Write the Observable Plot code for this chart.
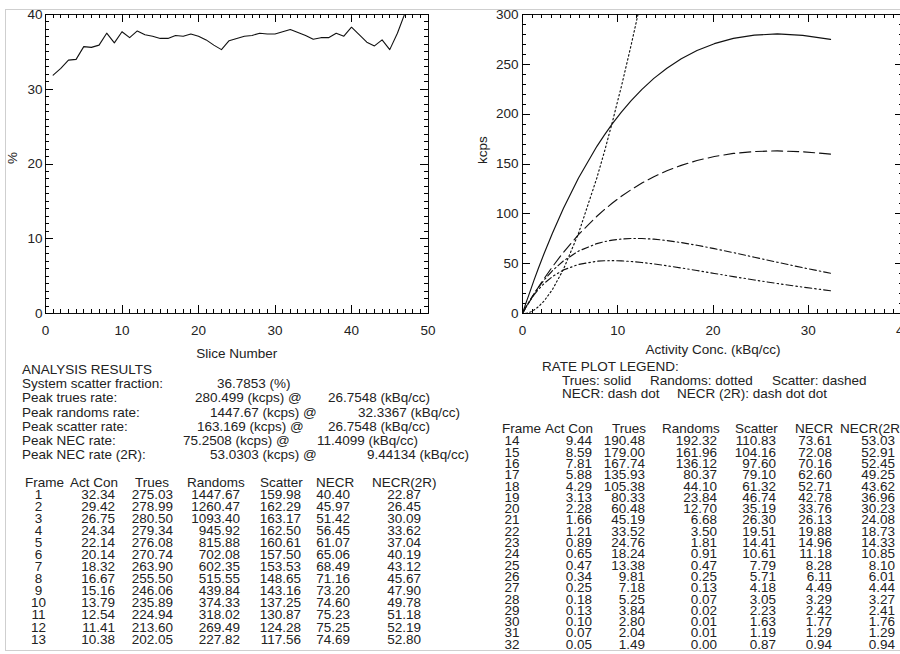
<!DOCTYPE html>
<html><head><meta charset="utf-8">
<script src="https://cdn.jsdelivr.net/npm/d3@7"></script>
<script src="https://cdn.jsdelivr.net/npm/@observablehq/plot@0.6"></script>
<style>
html,body{margin:0;padding:0;background:#fff;}
body{width:900px;height:654px;overflow:hidden;position:relative;font-family:"Liberation Sans",Arial,sans-serif;color:#222;}
#border{position:absolute;left:5px;top:9px;width:1000px;height:640px;border-left:1px solid #cfcfcf;border-top:1px solid #cfcfcf;border-bottom:1px solid #cfcfcf;z-index:5;pointer-events:none;}
.t{position:absolute;white-space:pre;font-size:13.5px;line-height:14px;}
#left{position:absolute;left:0;top:0;width:450px;}
#right{position:absolute;left:450px;top:0;width:480px;}
</style></head><body>
<div id="left"></div>
<div id="right"></div>
<div id="text"></div>
<div id="border"></div>
<script>
// ---------- Data ----------
const sliceNumber = [1,2,3,4,5,6,7,8,9,10,11,12,13,14,15,16,17,18,19,20,21,22,23,24,25,26,27,28,29,30,31,32,33,34,35,36,37,38,39,40,41,42,43,44,45,46,47];
const scatterFraction = [31.9,32.8,33.9,34.0,35.7,35.6,35.9,37.5,36.2,37.7,36.9,37.8,37.3,37.1,36.8,36.8,37.2,37.1,37.4,37.1,36.6,35.9,35.3,36.5,36.8,37.1,37.2,37.5,37.4,37.4,37.7,38.0,37.6,37.2,36.7,36.9,36.9,37.5,37.1,38.3,37.3,36.3,35.8,36.6,35.3,37.5,40.2];

const frameNo = [1,2,3,4,5,6,7,8,9,10,11,12,13,14,15,16,17,18,19,20,21,22,23,24,25,26,27,28,29,30,31,32];
const actCon = [32.34,29.42,26.75,24.34,22.14,20.14,18.32,16.67,15.16,13.79,12.54,11.41,10.38,9.44,8.59,7.81,5.88,4.29,3.13,2.28,1.66,1.21,0.89,0.65,0.47,0.34,0.25,0.18,0.13,0.10,0.07,0.05];
const trues = [275.03,278.99,280.50,279.34,276.08,270.74,263.90,255.50,246.06,235.89,224.94,213.60,202.05,190.48,179.00,167.74,135.93,105.38,80.33,60.48,45.19,33.52,24.76,18.24,13.38,9.81,7.18,5.25,3.84,2.80,2.04,1.49];
const randoms = [1447.67,1260.47,1093.40,945.92,815.88,702.08,602.35,515.55,439.84,374.33,318.02,269.49,227.82,192.32,161.96,136.12,80.37,44.10,23.84,12.70,6.68,3.50,1.81,0.91,0.47,0.25,0.13,0.07,0.02,0.01,0.01,0.00];
const scatter = [159.98,162.29,163.17,162.50,160.61,157.50,153.53,148.65,143.16,137.25,130.87,124.28,117.56,110.83,104.16,97.60,79.10,61.32,46.74,35.19,26.30,19.51,14.41,10.61,7.79,5.71,4.18,3.05,2.23,1.63,1.19,0.87];
const necr = [40.40,45.97,51.42,56.45,61.07,65.06,68.49,71.16,73.20,74.60,75.23,75.25,74.69,73.61,72.08,70.16,62.60,52.71,42.78,33.76,26.13,19.88,14.96,11.18,8.28,6.11,4.49,3.29,2.42,1.77,1.29,0.94];
const necr2r = [22.87,26.45,30.09,33.62,37.04,40.19,43.12,45.67,47.90,49.78,51.18,52.19,52.80,53.03,52.91,52.45,49.25,43.62,36.96,30.23,24.08,18.73,14.33,10.85,8.10,6.01,4.44,3.27,2.41,1.76,1.29,0.94];

const tableHeaders = ["Frame","Act Con","Trues","Randoms","Scatter","NECR","NECR(2R)"];

const analysisTitle = "ANALYSIS RESULTS";
const analysisLabels = ["System scatter fraction:","Peak trues rate:","Peak randoms rate:","Peak scatter rate:","Peak NEC rate:","Peak NEC rate (2R):"];
const analysisRates = ["36.7853 (%)","280.499 (kcps) @","1447.67 (kcps) @","163.169 (kcps) @","75.2508 (kcps) @","53.0303 (kcps) @"];
const analysisConcs = ["","26.7548 (kBq/cc)","32.3367 (kBq/cc)","26.7548 (kBq/cc)","11.4099 (kBq/cc)","9.44134 (kBq/cc)"];

const legendTitle = "RATE PLOT LEGEND:";
const legendRow1 = ["Trues: solid","Randoms: dotted","Scatter: dashed"];
const legendRow2 = ["NECR: dash dot","NECR (2R): dash dot dot"];

const xTicksLeft = [0,10,20,30,40,50];
const yTicksLeft = [0,10,20,30,40];
const xTicksRight = [0,10,20,30,40];
const yTicksRight = [0,50,100,150,200,250,300];

// ---------- Plots ----------
const FONT = '"Liberation Sans", Arial, sans-serif';
const INK = "#222";
const baseStyle = {fontFamily: FONT, fontSize: "13.5px", color: INK, background: "transparent", maxWidth: "none", overflow: "visible"};

// inward ticks on all four sides of the frame (frame size fW x fH in px)
function boxTicks(fW, fH, xMajor, xMinor, yMajor, yMinor) {
  const o = {stroke: "#000", strokeWidth: 1, shapeRendering: "crispEdges"};
  const m = [];
  for (const [ticks, len] of [[xMinor, 4], [xMajor, 8]]) {
    m.push(Plot.ruleX(ticks, {...o, x: d => d, insetTop: fH - len}));
    m.push(Plot.ruleX(ticks, {...o, x: d => d, insetBottom: fH - len}));
  }
  for (const [ticks, len] of [[yMinor, 4], [yMajor, 8]]) {
    m.push(Plot.ruleY(ticks, {...o, y: d => d, insetRight: fW - len}));
    m.push(Plot.ruleY(ticks, {...o, y: d => d, insetLeft: fW - len}));
  }
  return m;
}

const sfData = sliceNumber.map((s, i) => ({s, v: scatterFraction[i]}));
const leftPlot = Plot.plot({
  width: 450, height: 370,
  marginLeft: 45, marginRight: 22.5, marginTop: 14, marginBottom: 57,
  x: {domain: [0, 50]}, y: {domain: [0, 40]},
  style: baseStyle,
  marks: [
    Plot.frame({stroke: "#111", strokeWidth: 1, shapeRendering: "crispEdges"}),
    ...boxTicks(382.5, 299, xTicksLeft, d3.range(0, 51, 1), yTicksLeft, d3.range(0, 41, 1)),
    Plot.axisX(xTicksLeft, {anchor: "bottom", tickSize: 0, tickPadding: 12, label: null}),
    Plot.axisY(yTicksLeft, {anchor: "left", tickSize: 0, tickPadding: 3, label: null}),
    Plot.line(sfData, {x: "s", y: "v", stroke: "#111", strokeWidth: 1.1, clip: true}),
    Plot.text(["Slice Number"], {text: d => d, frameAnchor: "bottom", dy: 40, lineAnchor: "middle"}),
    Plot.text(["%"], {text: d => d, frameAnchor: "left", dx: -33, rotate: -90})
  ]
});
document.getElementById("left").appendChild(leftPlot);

const rates = actCon.map((x, i) => ({x, trues: trues[i], randoms: randoms[i], scatter: scatter[i], necr: necr[i], necr2r: necr2r[i]}));
const series = [
  {key: "trues", dash: null},
  {key: "randoms", dash: "1.5,2.6"},
  {key: "scatter", dash: "11,5"},
  {key: "necr", dash: "7,3,1.5,3"},
  {key: "necr2r", dash: "7,3,1.5,3,1.5,3"}
];
const rightPlot = Plot.plot({
  width: 470, height: 370,
  marginLeft: 72, marginRight: 17, marginTop: 14, marginBottom: 57,
  x: {domain: [0, 40]}, y: {domain: [0, 300]},
  style: baseStyle,
  marks: [
    Plot.frame({stroke: "#111", strokeWidth: 1, shapeRendering: "crispEdges"}),
    ...boxTicks(381, 299, xTicksRight, d3.range(0, 41, 1), yTicksRight, d3.range(0, 301, 10)),
    Plot.axisX(xTicksRight, {anchor: "bottom", tickSize: 0, tickPadding: 12, label: null}),
    Plot.axisY(yTicksRight, {anchor: "left", tickSize: 0, tickPadding: 4, label: null}),
    ...series.map(s => Plot.line(rates, {x: "x", y: s.key, stroke: "#111", strokeWidth: 1.15, strokeDasharray: s.dash, clip: true})),
    Plot.text(["Activity Conc. (kBq/cc)"], {text: d => d, frameAnchor: "bottom", dy: 36, lineAnchor: "middle"}),
    Plot.text(["kcps"], {text: d => d, frameAnchor: "left", dx: -40, rotate: -90})
  ]
});
document.getElementById("right").appendChild(rightPlot);

// ---------- Text blocks ----------
const textRoot = document.getElementById("text");
function put(str, x, cy, opts = {}) {
  const d = document.createElement("div");
  d.className = "t";
  d.textContent = str;
  const lh = opts.lh || 14;
  d.style.lineHeight = lh + "px";
  d.style.top = (cy - lh / 2) + "px";
  if (opts.align === "right") d.style.right = (900 - x) + "px";
  else if (opts.align === "center") { d.style.left = x + "px"; d.style.transform = "translateX(-50%)"; }
  else d.style.left = x + "px";
  textRoot.appendChild(d);
}

// analysis block
const aY0 = 370, aStep = 14.2;
put(analysisTitle, 22, aY0);
const rateX = [217, 195, 210, 197, 183, 210];
const concX = [0, 328, 358, 328, 317, 367];
analysisLabels.forEach((lab, i) => {
  const y = aY0 + (i + 1) * aStep;
  put(lab, 22, y);
  put(analysisRates[i], rateX[i], y);
  if (analysisConcs[i]) put(analysisConcs[i], concX[i], y);
});

// legend
put(legendTitle, 542, 367);
[562, 650, 772].forEach((x, i) => put(legendRow1[i], x, 381));
[562, 677].forEach((x, i) => put(legendRow2[i], x, 394));

// tables
function table(from, to, headerX, valueRight, frameCx, headerY, rowY0, step) {
  tableHeaders.forEach((h, j) => put(h, headerX[j], headerY, {lh: step}));
  const cols = [actCon, trues, randoms, scatter, necr, necr2r];
  for (let i = from; i < to; i++) {
    const y = rowY0 + (i - from) * step;
    put(String(frameNo[i]), frameCx, y, {align: "center", lh: step});
    cols.forEach((c, j) => put(c[i].toFixed(2), valueRight[j], y, {align: "right", lh: step}));
  }
}
table(0, 13, [25, 70, 135, 187, 260, 316, 372], [115, 173, 240, 301, 350, 421], 38.5, 483, 495, 12.05);
table(13, 32, [502, 545, 612, 662, 735, 795, 840], [592, 645, 717, 776, 832, 895], 512, 429, 441, 11.3);
</script>
</body></html>
